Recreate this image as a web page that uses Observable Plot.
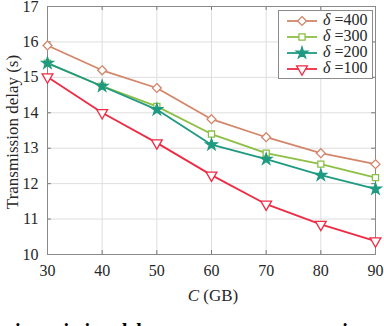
<!DOCTYPE html>
<html>
<head>
<meta charset="utf-8">
<script src="https://cdn.jsdelivr.net/npm/d3@7"></script>
<script src="https://cdn.jsdelivr.net/npm/@observablehq/plot@0.6"></script>
<style>
  html, body { margin: 0; padding: 0; background: #fff; }
  #wrap { width: 384px; position: relative; }
  #cap { position: relative; width: 384px; height: 18px; overflow: hidden; }
  #cap span { position: absolute; top: 13px; left: -6px; white-space: nowrap;
    font: bold 20px/20px "Liberation Serif", serif; color: #000; }
</style>
</head>
<body>
<div id="wrap"></div>
<div id="cap"><span>ission mission delay versus storage capacity</span></div>
<script>
const capacities = [30, 40, 50, 60, 70, 80, 90];
const delay400 = [15.9, 15.2, 14.7, 13.82, 13.31, 12.86, 12.55];
const delay300 = [15.4, 14.75, 14.18, 13.4, 12.86, 12.55, 12.17];
const delay200 = [15.4, 14.75, 14.09, 13.1, 12.69, 12.24, 11.85];
const delay100 = [15.01, 14.0, 13.15, 12.24, 11.42, 10.85, 10.38];
const seriesNames = ["δ =400", "δ =300", "δ =200", "δ =100"];
const seriesDeltas = ["400", "300", "200", "100"];
const yTicks = [10, 11, 12, 13, 14, 15, 16, 17];

const colors = ["#d3866a", "#8cbf45", "#1f9a82", "#ef2a44"];
const symbols = ["diamond2", "square2", "star", "triangle"];
const rotates = [0, 0, 0, 180];
const fills = ["white", "white", null, "white"];
const sizes = [4.0, 3.9, 3.6, 4.0];

const allSeries = [delay400, delay300, delay200, delay100];
const rows = [];
allSeries.forEach((vals, i) => vals.forEach((v, j) => rows.push({c: capacities[j], d: v, s: i})));

const lineMarks = [];
const dotMarks = [];
allSeries.forEach((vals, i) => {
  const data = rows.filter(r => r.s === i);
  lineMarks.push(Plot.line(data, {x: "c", y: "d", stroke: colors[i], strokeWidth: 1.8}));
  dotMarks.push(Plot.dot(data, {x: "c", y: "d", symbol: () => symbols[i], stroke: colors[i],
    fill: fills[i] ?? colors[i], r: sizes[i], strokeWidth: 1.3, rotate: rotates[i]}));
});

const serif = "'Liberation Serif', 'Times New Roman', serif";
const plot = Plot.plot({
  width: 384, height: 308,
  marginLeft: 47, marginRight: 9, marginTop: 6, marginBottom: 54,
  x: {domain: [30, 90], label: null},
  y: {domain: [10, 17], label: null},
  symbol: {type: "identity"},
  style: {fontFamily: serif, fontSize: "16px", color: "#262626", background: "white"},
  marks: [
    Plot.gridX(capacities, {stroke: "#dedede", strokeOpacity: 1}),
    Plot.gridY(yTicks, {stroke: "#dedede", strokeOpacity: 1}),
    Plot.ruleX(capacities, {y1: 10, y2: 10.11, stroke: "#777"}),
    Plot.ruleX(capacities, {y1: 17, y2: 16.89, stroke: "#777"}),
    Plot.ruleY(yTicks, {x1: 30, x2: 30.7, stroke: "#777"}),
    Plot.ruleY(yTicks, {x1: 90, x2: 89.3, stroke: "#777"}),
    Plot.frame({stroke: "#8a8a8a", strokeWidth: 1}),
    Plot.axisX(capacities, {tickSize: 0, tickPadding: 10, label: null}),
    Plot.axisY(yTicks, {tickSize: 0, tickPadding: 9, label: null}),
    ...lineMarks,
    ...dotMarks
  ]
});
document.getElementById("wrap").appendChild(plot);

const svg = d3.select(plot);
const xS = plot.scale("x"), yS = plot.scale("y");
const x0 = xS.apply(30), x1 = xS.apply(90), yb = yS.apply(10), yt = yS.apply(17);

// y label
svg.append("text")
  .attr("transform", `translate(14,${(yb + yt) / 2 + 2}) rotate(-90)`)
  .attr("text-anchor", "middle").attr("dominant-baseline", "middle")
  .attr("font-family", serif).attr("font-size", 17).attr("fill", "#262626")
  .text("Transmission delay (s)");

// x label
const xl = svg.append("text")
  .attr("x", (x0 + x1) / 2 + 2).attr("y", yb + 43)
  .attr("text-anchor", "middle").attr("dominant-baseline", "middle")
  .attr("font-family", serif).attr("font-size", 17).attr("fill", "#262626");
xl.append("tspan").attr("font-style", "italic").text("C");
xl.append("tspan").text(" (GB)");

// legend
const lg = svg.append("g");
lg.append("rect").attr("x", 278.5).attr("y", 10.5).attr("width", 94).attr("height", 68)
  .attr("fill", "white").attr("stroke", "#8a8a8a");
const symMap = {diamond2: d3.symbolDiamond2, square2: d3.symbolSquare2, star: d3.symbolStar, triangle: d3.symbolTriangle};
seriesNames.forEach((name, i) => {
  const y = 21 + i * 16;
  lg.append("line").attr("x1", 287).attr("x2", 317).attr("y1", y).attr("y2", y)
    .attr("stroke", colors[i]).attr("stroke-width", 1.8);
  const r = sizes[i];
  lg.append("path").attr("d", d3.symbol(symMap[symbols[i]], r * r * Math.PI)())
    .attr("transform", `translate(302,${y}) rotate(${rotates[i]})`)
    .attr("fill", fills[i] ?? colors[i]).attr("stroke", colors[i]).attr("stroke-width", 1.3);
  const t = lg.append("text").attr("x", 323).attr("y", y).attr("dominant-baseline", "middle")
    .attr("text-anchor", "start")
    .attr("font-family", serif).attr("font-size", 16).attr("fill", "#262626");
  t.append("tspan").attr("font-style", "italic").text("δ");
  t.append("tspan").text(" =" + seriesDeltas[i]);
});
</script>
</body>
</html>
